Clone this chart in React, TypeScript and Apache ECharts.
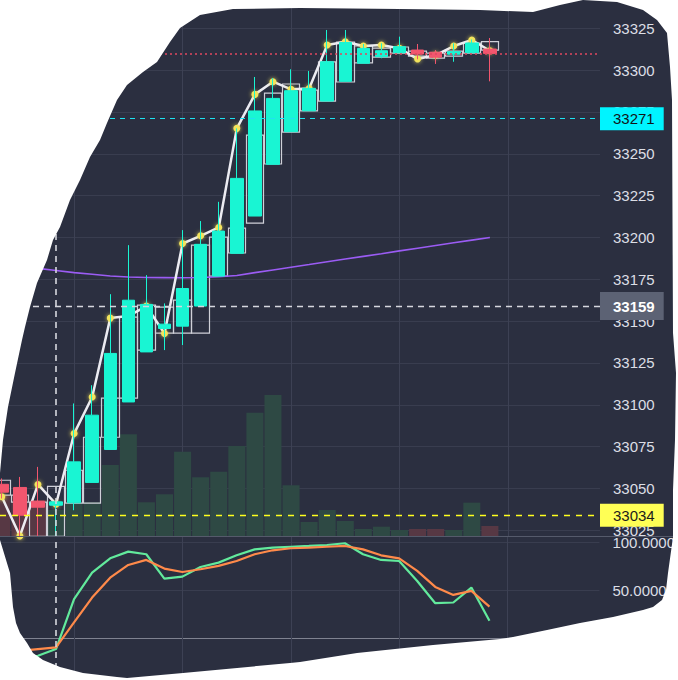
import React, { useEffect, useRef } from 'react';
import * as echarts from 'echarts';

// ---- data ----
const opens = [33052.5, 33050.6, 33042.4, 33040.0, 33041.4, 33053.6, 33073.3, 33101.7, 33131.6, 33145.6, 33147.0, 33159.0, 33176.9, 33190.5, 33212.8, 33243.7, 33263.2, 33275.7, 33281.5, 33293.3, 33304.1, 33308.0, 33310.4, 33312.0, 33310.7, 33309.5, 33310.4, 33312.6];
const closes = [33047.8, 33034.0, 33038.8, 33042.0, 33065.9, 33093.8, 33130.7, 33162.5, 33160.0, 33148.2, 33169.5, 33195.9, 33203.8, 33235.3, 33275.6, 33283.1, 33287.7, 33289.1, 33305.0, 33316.5, 33313.0, 33311.6, 33314.0, 33309.6, 33307.7, 33311.0, 33316.2, 33310.0];
const lows = [33044.0, 33021.6, 33021.6, 33021.5, 33037.0, 33053.6, 33073.3, 33101.7, 33131.6, 33132.7, 33135.7, 33159.0, 33176.9, 33190.5, 33212.8, 33243.7, 33263.2, 33275.7, 33281.5, 33293.3, 33304.1, 33307.1, 33310.4, 33306.5, 33303.7, 33305.0, 33310.4, 33293.3];
const highs = [33056.0, 33056.9, 33062.9, 33042.5, 33100.8, 33111.7, 33166.1, 33195.4, 33177.5, 33160.6, 33204.4, 33209.8, 33221.3, 33265.2, 33295.9, 33295.2, 33300.5, 33299.5, 33324.0, 33324.0, 33315.6, 33316.0, 33320.0, 33315.6, 33312.0, 33316.0, 33318.3, 33319.2];

const boxHigh = [33054.9, 33046.0, 33041.8, 33051.3, 33060.9, 33080.6, 33104.0, 33152.4, 33159.6, 33158.4, 33162.6, 33195.4, 33200.2, 33205.6, 33261.2, 33286.3, 33291.7, 33288.1, 33304.9, 33316.8, 33314.4, 33313.2, 33313.8, 33311.4, 33310.2, 33311.4, 33316.2, 33317.0];
const boxLow = [33046.0, 33041.8, 33021.4, 33021.4, 33041.2, 33041.2, 33080.6, 33104.0, 33132.7, 33142.8, 33142.8, 33142.8, 33176.9, 33190.7, 33208.6, 33243.9, 33263.0, 33275.6, 33281.5, 33292.9, 33304.3, 33307.8, 33310.2, 33308.4, 33307.2, 33308.4, 33310.2, 33312.0];

const trendLine = [33045.0, 33021.6, 33052.4, 33040.6, 33082.8, 33104.7, 33151.8, 33153.0, 33159.0, 33142.6, 33196.4, 33201.0, 33206.0, 33265.2, 33285.5, 33293.1, 33288.5, 33289.0, 33315.0, 33317.0, 33314.4, 33315.0, 33313.0, 33306.6, 33309.0, 33314.4, 33318.0, 33311.6];
const movingAvg = [33184.5, 33183.0, 33181.5, 33180.3, 33179.0, 33178.0, 33177.0, 33176.4, 33176.1, 33176.0, 33175.9, 33176.1, 33176.5, 33177.3, 33179.0, 33180.6, 33182.2, 33183.8, 33185.5, 33187.1, 33188.7, 33190.3, 33192.0, 33193.6, 33195.2, 33196.8, 33198.4, 33200.0];
const volumes = [420, 420, 370, 270, 340, 350, 720, 1027, 347, 427, 853, 597, 653, 910, 1243, 1420, 517, 150, 270, 160, 80, 103, 70, 80, 80, 70, 343, 110];

const kLine = [-20, -21, -18.0, -11.1, 40.7, 68.2, 83.1, 90.0, 87.3, 62.0, 64.1, 74.1, 78.6, 86.2, 92.4, 94.1, 95.1, 95.9, 96.9, 98.7, 87.3, 81.4, 80.3, 59.6, 36.5, 37.2, 52.7, 18.2];
const dLine = [-15, -13, -11.1, -9.4, 16.5, 42.3, 63.0, 76.2, 81.4, 72.4, 68.9, 71.7, 75.2, 80.3, 87.3, 91.4, 93.5, 94.1, 95.1, 95.9, 92.4, 86.2, 83.1, 70.0, 53.4, 45.1, 49.3, 33.0];

const priceTicks = [33025, 33050, 33075, 33100, 33125, 33150, 33175, 33200, 33225, 33250, 33275, 33300, 33325];
const oscTicks = [0, 50, 100];
const timeTicks = [4, 10, 16, 22, 28];

const cyanLevel = 33271;
const yellowLevel = 33034;
const crossPrice = 33159;
const crossIndex = 3;
const lastPrice = 33310;

// ---- styles ----
const BG = '#2b2f40';
const GRID_H = '#393d4f';
const GRID_V = '#3d4154';
const LABEL = '#dcdee5';
const UP = '#19f5d3';
const DOWN = '#f2566e';
const VOL_UP = '#2e4944';
const VOL_DOWN = '#573844';
const FONT = 'Arial, "Liberation Sans", sans-serif';

const blob: number[][] = [
  [200, 15], [233, 9], [300, 8], [400, 9], [480, 10], [533, 12], [560, 5], [583, 0], [617, 2], [643, 10], [657, 20], [667, 33], [670, 67], [672, 100], [673, 333], [676, 373], [675, 440], [673, 490], [673, 537], [668, 573], [666, 590], [662, 600], [653, 607], [643, 610], [613, 617], [580, 623], [547, 630], [513, 637], [500, 639], [433, 645], [357, 653], [300, 662], [290, 663], [183, 673], [127, 678], [117, 677], [83, 673], [60, 667], [43, 660], [33, 653], [27, 643], [20, 633], [16, 623], [13, 607], [10, 573], [0, 540], [0, 473], [3, 440], [8, 407], [15, 373], [22, 340], [25, 327], [30, 307], [37, 283], [47, 260], [53, 240], [60, 227], [70, 200], [80, 180], [90, 157], [100, 140], [107, 123], [117, 100], [127, 85], [143, 72], [157, 62], [170, 42], [180, 28],
];

export default function App() {
  const ref = useRef<HTMLDivElement>(null);
  useEffect(() => {
    if (!ref.current) return;
    const chart = echarts.init(ref.current, null, { renderer: 'svg' });

    const candleData = opens.map((o, i) => [i, o, closes[i], lows[i], highs[i]]);
    const boxData = boxHigh.map((h, i) => [i, boxLow[i], h, boxLow[i], h]);
    const volData = volumes.map((v, i) => ({
      value: [i, v],
      itemStyle: { color: closes[i] >= opens[i] ? VOL_UP : VOL_DOWN },
    }));

    const maskPoints = [[0, 0], [678, 0], [678, 680], [0, 680], [0, 0], ...blob.slice().reverse(), blob[blob.length - 1], [0, 0]];

    const boxLabel = (bg: string, color: string, bold: boolean, padV: number) => ({
      show: true,
      position: 'end',
      distance: 0,
      backgroundColor: bg,
      color,
      fontSize: 15,
      fontFamily: FONT,
      fontWeight: bold ? 'bold' : 'normal',
      padding: [padV, 9, padV, 13],
    });

    const option: any = {
      animation: false,
      backgroundColor: BG,
      grid: [
        { left: 0, right: 78, top: 0, height: 537 },
        { left: 0, right: 78, top: 537, height: 143 },
      ],
      xAxis: [0, 1].map((g) => ({
        type: 'value',
        gridIndex: g,
        min: -0.1,
        max: 33.09,
        axisLine: { show: false },
        axisTick: { show: false, customValues: timeTicks },
        axisLabel: { show: false, customValues: timeTicks },
        splitLine: { show: true, lineStyle: { color: GRID_V, width: 1 } },
      })),
      yAxis: [
        {
          type: 'value', gridIndex: 0, position: 'right', min: 33021, max: 33341.9,
          axisLine: { show: false },
          axisTick: { show: false, customValues: priceTicks },
          axisLabel: { customValues: priceTicks, color: LABEL, fontSize: 15, fontFamily: FONT, margin: 13, formatter: (v: number) => String(v) },
          splitLine: { show: true, lineStyle: { color: GRID_H, width: 1 } },
        },
        { type: 'value', gridIndex: 0, min: 0, max: 5367, show: false },
        {
          type: 'value', gridIndex: 1, position: 'right', min: -43.2, max: 105.2,
          axisLine: { show: false },
          axisTick: { show: false, customValues: oscTicks },
          axisLabel: { customValues: oscTicks, color: LABEL, fontSize: 15, fontFamily: FONT, margin: 13, formatter: (v: number) => v.toFixed(4) },
          splitLine: { show: true, lineStyle: { color: ['#7f8290', GRID_H, GRID_H], width: 1 } },
        },
      ],
      series: [
        {
          type: 'candlestick', name: 'box', xAxisIndex: 0, yAxisIndex: 0, z: 1, silent: true,
          barWidth: 18, data: boxData,
          itemStyle: { color: 'rgba(0,0,0,0)', color0: 'rgba(0,0,0,0)', borderColor: '#cfd0d8', borderColor0: '#cfd0d8', borderWidth: 1.2 },
        },
        {
          type: 'bar', name: 'volume', xAxisIndex: 0, yAxisIndex: 1, z: 1, silent: true,
          barWidth: 17, data: volData,
        },
        {
          type: 'line', name: 'ma', xAxisIndex: 0, yAxisIndex: 0, z: 2, silent: true,
          showSymbol: false, data: movingAvg.map((v, i) => [i, v]),
          lineStyle: { color: '#9b5cf4', width: 1.6 },
        },
        {
          type: 'line', name: 'trend', xAxisIndex: 0, yAxisIndex: 0, z: 3, silent: true,
          symbol: 'circle', symbolSize: 7, data: trendLine.map((v, i) => [i, v]),
          lineStyle: { color: '#ececf2', width: 2.5 },
          itemStyle: { color: '#f3e45c', shadowBlur: 4, shadowColor: 'rgba(243,228,92,0.8)' },
        },
        {
          type: 'candlestick', name: 'price', xAxisIndex: 0, yAxisIndex: 0, z: 4, silent: true,
          barWidth: 13, data: candleData,
          itemStyle: { color: UP, color0: DOWN, borderColor: UP, borderColor0: DOWN, borderWidth: 1 },
          markLine: {
            silent: true, symbol: 'none', animation: false,
            label: { show: false },
            data: [
              { yAxis: lastPrice, lineStyle: { color: '#e0485f', type: [2, 3], width: 1.5, opacity: 1 } },
              { yAxis: cyanLevel, lineStyle: { color: '#1fe3f0', type: [5, 5], width: 1.2, opacity: 1 }, label: { ...boxLabel('#00f4ff', '#111418', false, 4), formatter: String(cyanLevel) } },
              { yAxis: yellowLevel, lineStyle: { color: '#ffff1e', type: [6, 6], width: 1.4, opacity: 1 }, label: { ...boxLabel('#ffff55', '#1c1c1c', false, 4), formatter: String(yellowLevel) } },
              { yAxis: crossPrice, lineStyle: { color: '#d6d7de', type: [6, 5], width: 1.4, opacity: 1 }, label: { ...boxLabel('#5c6274', '#ffffff', true, 6.5), formatter: String(crossPrice) } },
              { xAxis: crossIndex, lineStyle: { color: '#d6d7de', type: [6, 5], width: 1.6, opacity: 1 } },
            ],
          },
        },
        {
          type: 'line', name: 'K', xAxisIndex: 1, yAxisIndex: 2, z: 3, silent: true,
          showSymbol: false, data: kLine.map((v, i) => [i, v]),
          lineStyle: { color: '#62ea9c', width: 2.2 },
          markLine: {
            silent: true, symbol: 'none', label: { show: false },
            data: [{ xAxis: crossIndex, lineStyle: { color: '#d6d7de', type: [6, 5], width: 1.6 } }],
          },
        },
        {
          type: 'line', name: 'D', xAxisIndex: 1, yAxisIndex: 2, z: 3, silent: true,
          showSymbol: false, data: dLine.map((v, i) => [i, v]),
          lineStyle: { color: '#ff8a4a', width: 2.2 },
        },
      ],
      graphic: [
        {
          type: 'line', z: 50, silent: true,
          shape: { x1: 0, y1: 536.5, x2: 678, y2: 536.5 },
          style: { stroke: '#555a6b', lineWidth: 1 },
        },
        {
          type: 'polygon', z: 100, silent: true,
          shape: { points: maskPoints },
          style: { fill: '#ffffff', stroke: null },
        },
      ],
    };
    chart.setOption(option);
    return () => chart.dispose();
  }, []);
  return <div ref={ref} style={{ position: 'fixed', left: 0, top: 0, width: 678, height: 680 }} />;
}
